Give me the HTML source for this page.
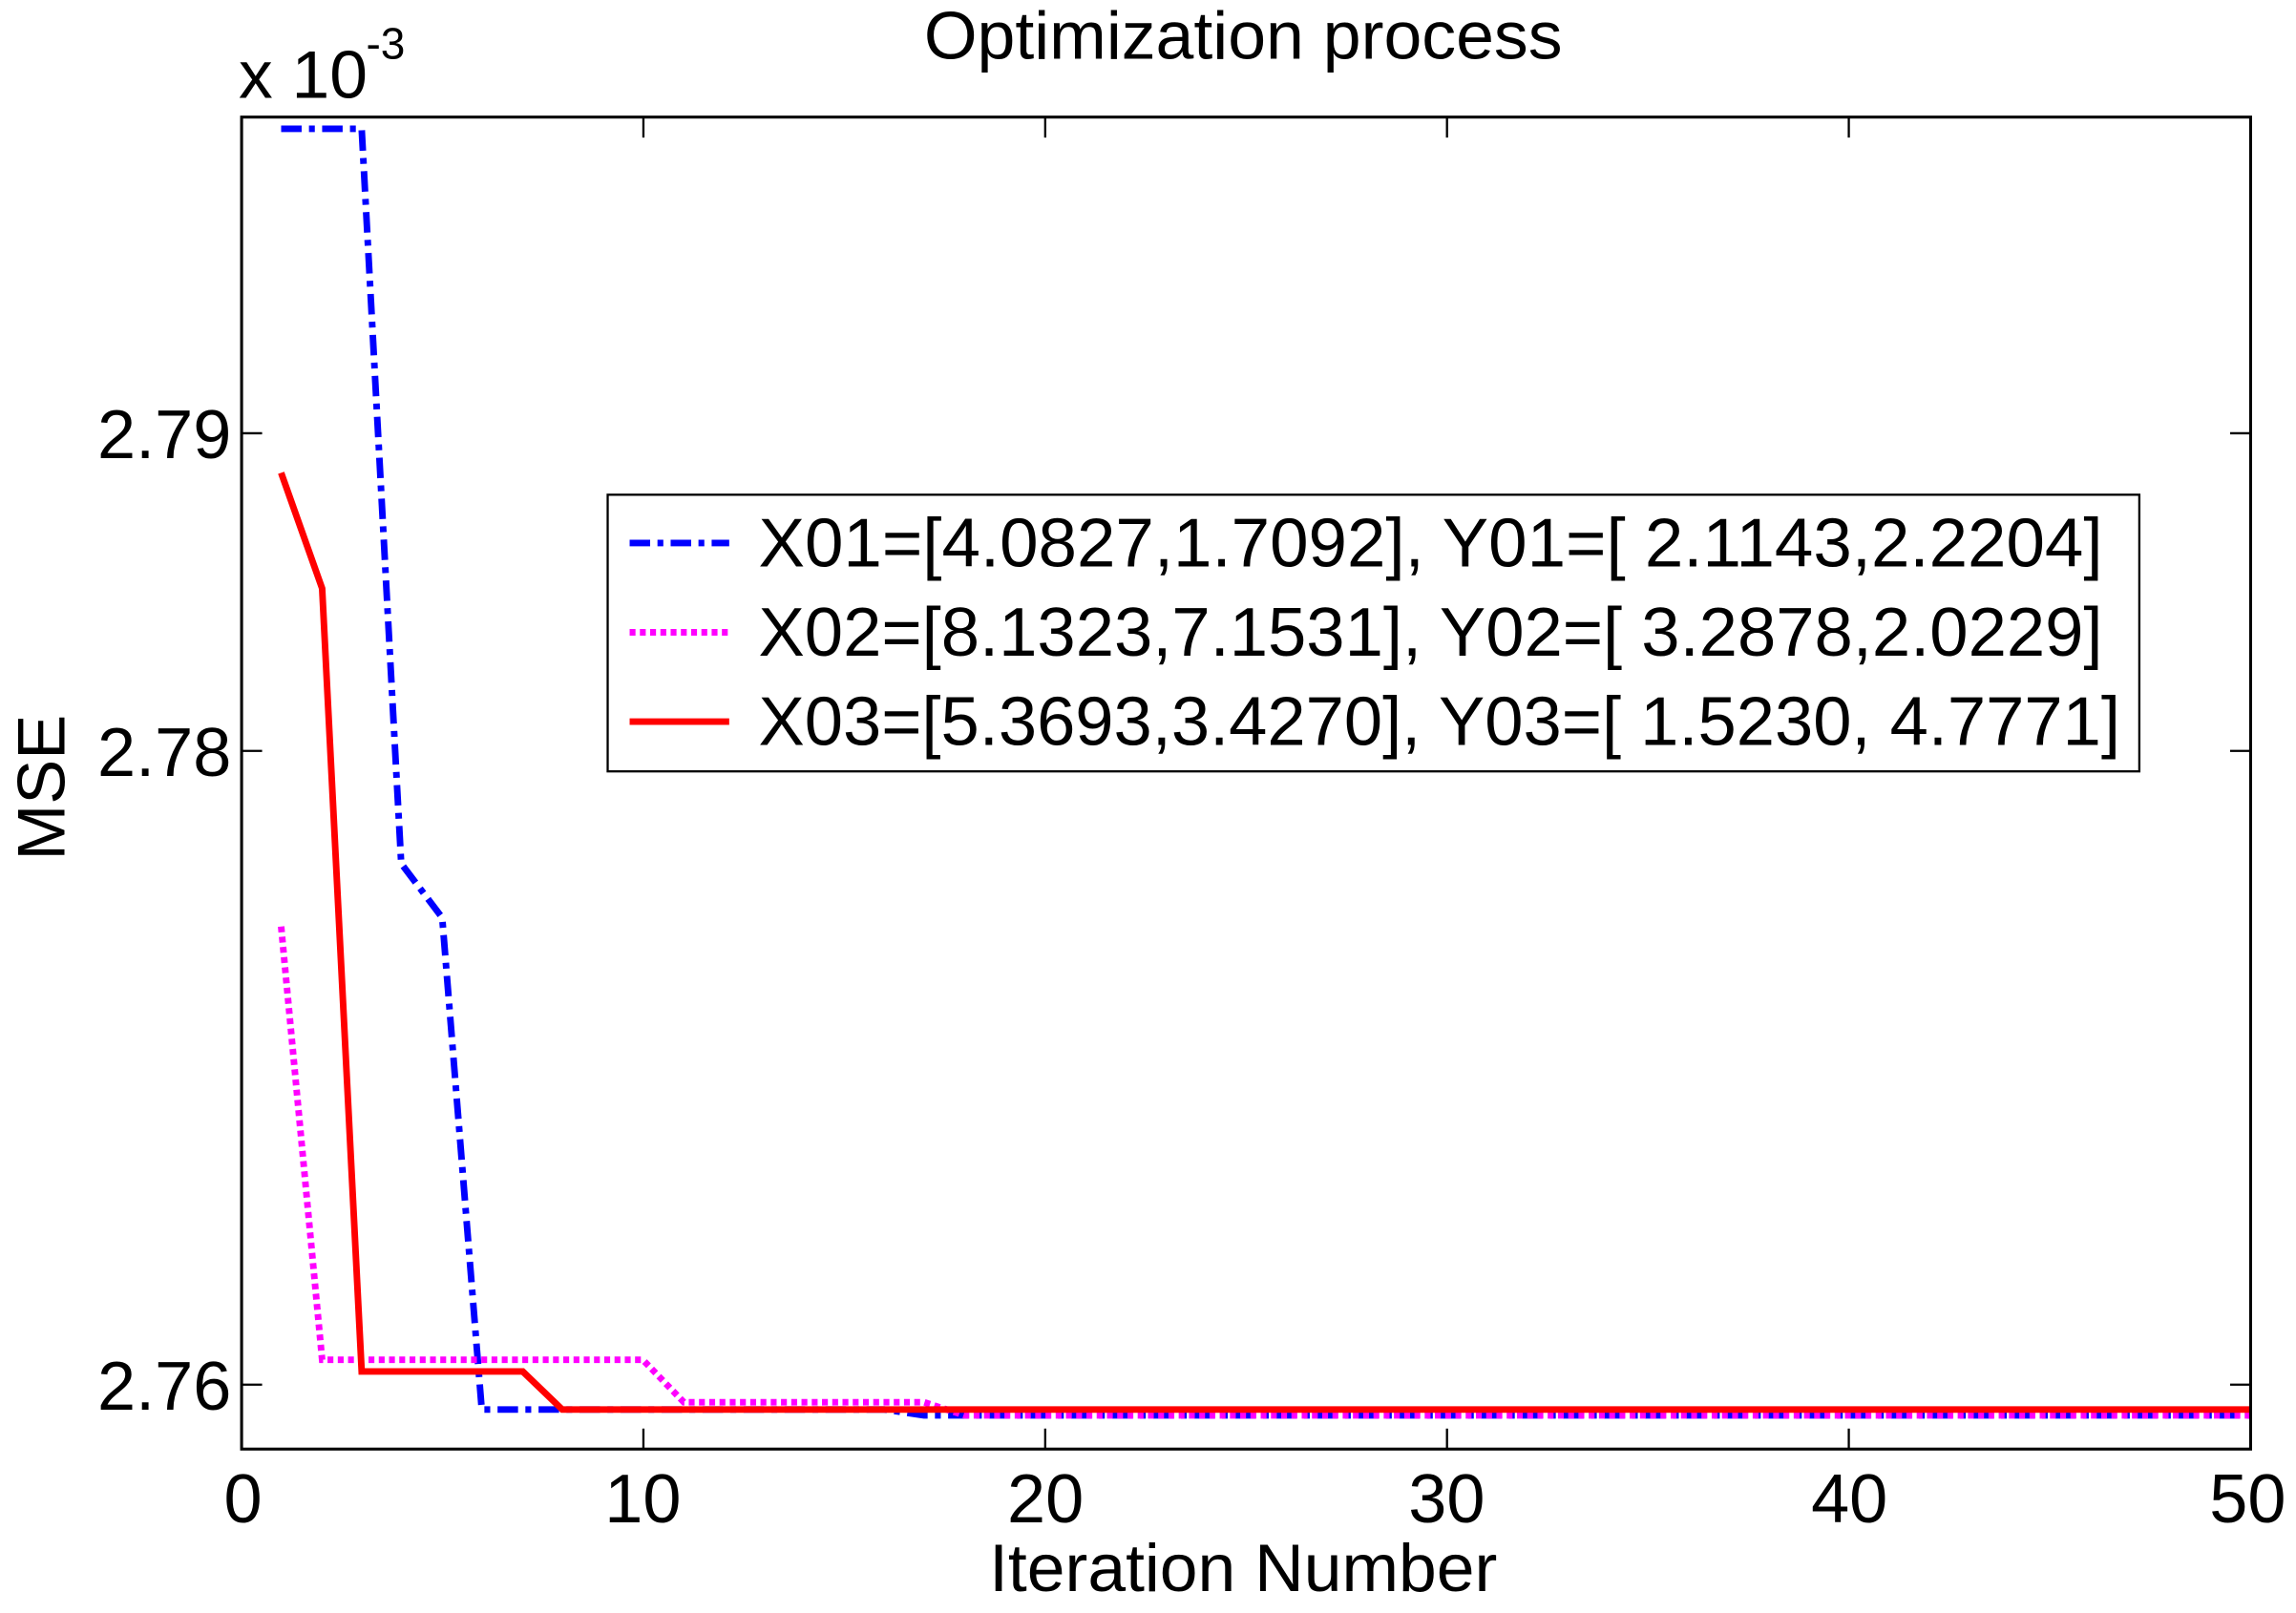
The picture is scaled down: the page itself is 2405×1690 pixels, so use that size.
<!DOCTYPE html>
<html><head><style>html,body{margin:0;padding:0;background:#fff;}svg{display:block}</style></head>
<body>
<svg width="2405" height="1690" viewBox="0 0 1568 1102" preserveAspectRatio="none" xmlns="http://www.w3.org/2000/svg" font-family="Liberation Sans, Arial, sans-serif">
<rect width="1568" height="1102" fill="#fff"/>
<text x="849" y="40" font-size="46" text-anchor="middle" textLength="436" lengthAdjust="spacingAndGlyphs">Optimization process</text>
<text x="163" y="67" font-size="46" textLength="88" lengthAdjust="spacingAndGlyphs">x 10</text>
<text x="250" y="40" font-size="30">-3</text>
<g stroke="#000" stroke-width="1.5">
<line x1="439.4" y1="990" x2="439.4" y2="976"/><line x1="713.8" y1="990" x2="713.8" y2="976"/><line x1="988.2" y1="990" x2="988.2" y2="976"/><line x1="1262.6" y1="990" x2="1262.6" y2="976"/>
<line x1="439.4" y1="80" x2="439.4" y2="94"/><line x1="713.8" y1="80" x2="713.8" y2="94"/><line x1="988.2" y1="80" x2="988.2" y2="94"/><line x1="1262.6" y1="80" x2="1262.6" y2="94"/>
<line x1="165" y1="296" x2="179" y2="296"/><line x1="165" y1="513" x2="179" y2="513"/><line x1="165" y1="946" x2="179" y2="946"/>
<line x1="1537" y1="296" x2="1523" y2="296"/><line x1="1537" y1="513" x2="1523" y2="513"/><line x1="1537" y1="946" x2="1523" y2="946"/>
</g>
<g font-size="47" text-anchor="middle">
<text x="166" y="1040">0</text><text x="439" y="1040">10</text><text x="714" y="1040">20</text><text x="988" y="1040">30</text><text x="1263" y="1040">40</text><text x="1535" y="1040">50</text>
</g>
<g font-size="47" text-anchor="end">
<text x="158" y="313">2.79</text><text x="158" y="530">2.78</text><text x="158" y="963">2.76</text>
</g>
<text x="849" y="1087" font-size="46" text-anchor="middle" textLength="347" lengthAdjust="spacingAndGlyphs">Iteration Number</text>
<text transform="translate(44,538) rotate(-90)" font-size="46" text-anchor="middle">MSE</text>
<polyline fill="none" stroke="#0000ff" stroke-width="4.5" stroke-dasharray="14,5,4,5" points="192,88 220,88 247,88 274,590 302,627 329,963 357,963 384,963 604,963 631,967 1537,967"/>
<polyline fill="none" stroke="#ff00ff" stroke-width="4.5" stroke-dasharray="4,3" points="192,633 220,929 439,929 467,958 631,958 659,967 1537,967"/>
<polyline fill="none" stroke="#ff0000" stroke-width="4.5" points="192,323 220,402 247,937 357,937 384,963 1537,963"/>
<rect x="165" y="80" width="1372" height="910" fill="none" stroke="#000" stroke-width="2"/>
<rect x="415" y="338" width="1046" height="189" fill="#fff" stroke="#000" stroke-width="1.5"/>
<line x1="430" y1="371" x2="498" y2="371" stroke="#0000ff" stroke-width="4.5" stroke-dasharray="14,5,4,5"/>
<line x1="430" y1="432" x2="498" y2="432" stroke="#ff00ff" stroke-width="4.5" stroke-dasharray="4,3"/>
<line x1="430" y1="493" x2="498" y2="493" stroke="#ff0000" stroke-width="4.5"/>
<g font-size="47">
<text x="518" y="387" textLength="918" lengthAdjust="spacingAndGlyphs">X01=[4.0827,1.7092], Y01=[ 2.1143,2.2204]</text>
<text x="518" y="448" textLength="918" lengthAdjust="spacingAndGlyphs">X02=[8.1323,7.1531], Y02=[ 3.2878,2.0229]</text>
<text x="518" y="509" textLength="930" lengthAdjust="spacingAndGlyphs">X03=[5.3693,3.4270], Y03=[ 1.5230, 4.7771]</text>
</g>
</svg>
</body></html>
